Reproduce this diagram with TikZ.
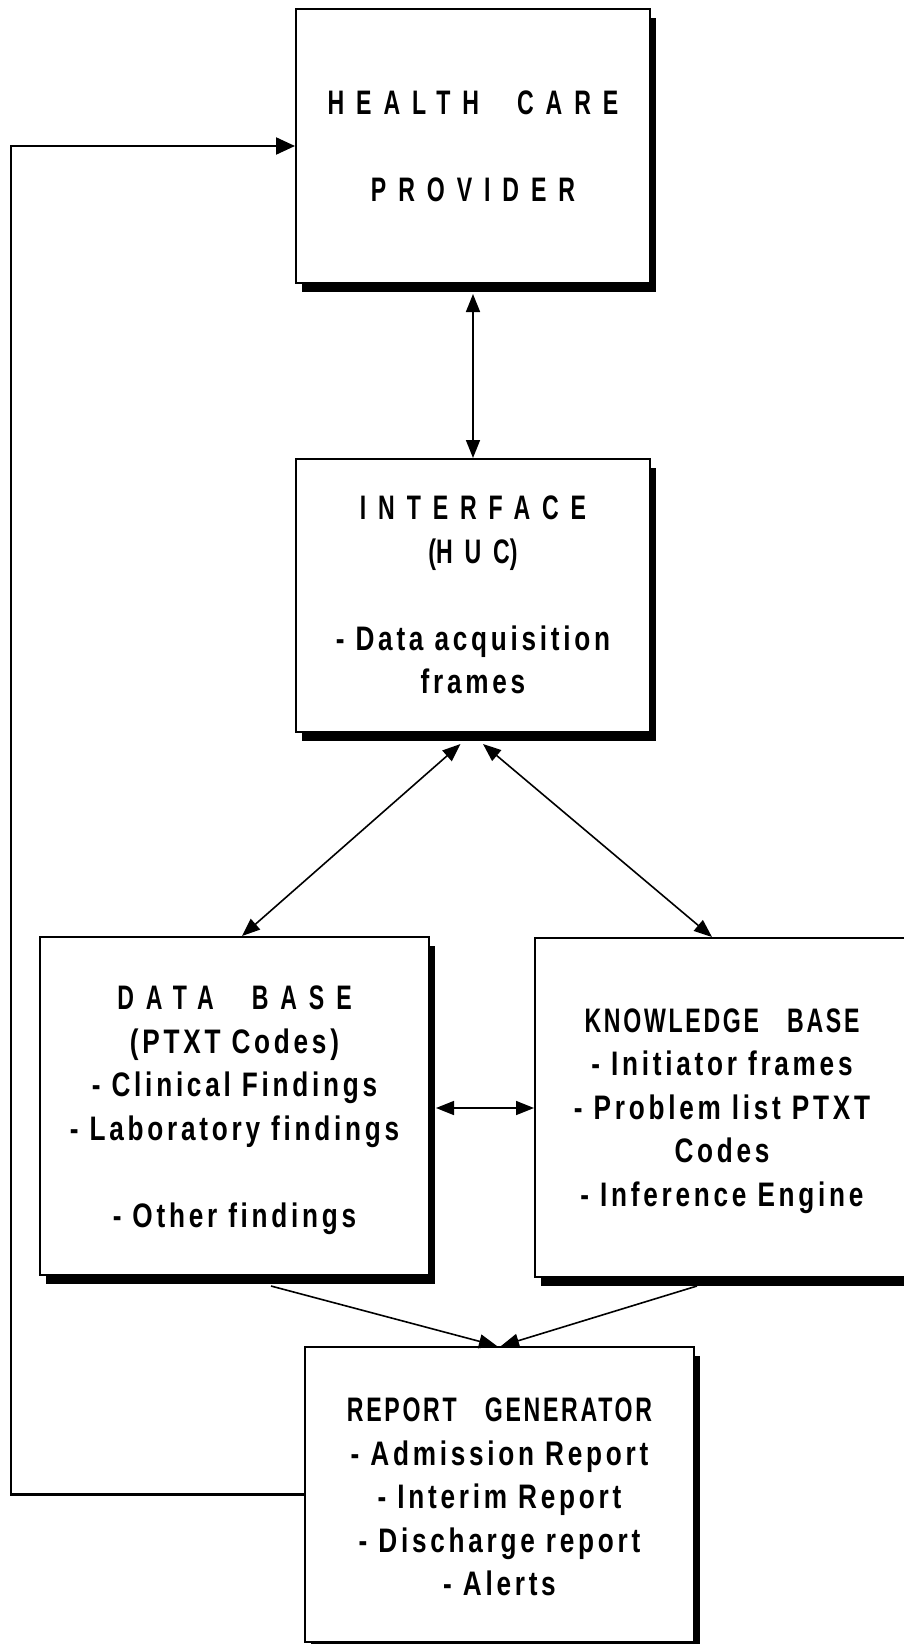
\documentclass[tikz,border=0pt]{standalone}
\usepackage{fontspec}
% body lines: condensed bold with a little tracking
\newfontfamily\boxfont{Liberation Sans}[FakeStretch=0.77,LetterSpace=11]
% narrow capitals for the two-word titles
\newfontfamily\capsfont{Liberation Sans}[FakeStretch=0.68,LetterSpace=8]
% narrow capitals, widely tracked, for the spaced-out titles
\newfontfamily\widecaps{Liberation Sans}[FakeStretch=0.68,LetterSpace=35]
\newcommand{\trackcaps}[1]{{\widecaps #1}}
\newcommand{\titlegap}{\hspace{19pt}}
\usetikzlibrary{arrows.meta,shadows,calc}

\tikzset{
  blk/.style={rectangle, draw=black, line width=1pt, fill=white, inner sep=0pt,
    drop shadow={shadow xshift=3pt, shadow yshift=-4.5pt, fill=black, opacity=1}},
  boxtext/.style={font=\boxfont\bfseries\fontsize{17pt}{21.75pt}\selectfont,
    align=center, inner sep=0pt},
  link/.style={line width=0.8pt, {Triangle[length=9pt,width=7pt]}-{Triangle[length=9pt,width=7pt]}},
  oneway/.style={line width=0.8pt, -{Triangle[length=9pt,width=7pt]}},
  feedback/.style={line width=1.1pt, -{Triangle[length=9.5pt,width=8.5pt]}},
}

\begin{document}
\begin{tikzpicture}[x=0.5pt, y=-0.5pt]
  \path[fill=white] (0,0) rectangle (904,1644);
  \useasboundingbox (0,0) rectangle (904,1644);

  % boxes
  \node[blk, minimum width=177pt, minimum height=137pt]   (hcp) at (473,146) {};
  \node[blk, minimum width=177pt, minimum height=136.5pt] (int) at (473,595.5) {};
  \node[blk, minimum width=194.5pt, minimum height=169pt] (db)  at (234.5,1106) {};
  \node[blk, minimum width=187pt, minimum height=169.5pt] (kb)  at (722,1107.5) {};
  \node[blk, minimum width=194.5pt, minimum height=147.5pt] (rg) at (499.5,1494.5) {};

  % box contents
  \node[boxtext] (hcptext) at (473,146.5)
    {\trackcaps{HEALTH}\titlegap\trackcaps{CARE}\\[21.75pt]\trackcaps{PROVIDER}};
  \node[boxtext] (inttext) at (473,595)
    {\trackcaps{INTERFACE}\\{\capsfont(}\trackcaps{HUC}{\capsfont)}\\[21.75pt]- Data acquisition\\frames};
  \node[boxtext] (dbtext) at (234.5,1110)
    {\trackcaps{DATA}\titlegap\trackcaps{BASE}\\(PTXT Codes)\\- Clinical Findings\\- Laboratory findings\\[21.75pt]- Other findings};
  \node[boxtext] (kbtext) at (722,1111)
    {{\capsfont KNOWLEDGE\hspace{14pt}BASE}\\- Initiator frames\\- Problem list PTXT\\Codes\\- Inference Engine};
  \node[boxtext] (rgtext) at (499.5,1497)
    {{\capsfont REPORT\hspace{14pt}GENERATOR}\\- Admission Report\\- Interim Report\\- Discharge report\\- Alerts};

  % connectors
  \draw[link] ([yshift=-5pt]hcp.south) -- (int.north);
  \draw[link] ($(int.south)+(-12.5,11)$) -- ($(db.north)+(7.5,0)$);
  \draw[link] ($(int.south)+(10,11)$) -- ($(kb.north)+(-10,0)$);
  \draw[link] ($(db.east)+(6,2)$) -- ($(db.east -| kb.west)+(0,2)$);
  \draw[oneway] ($(db.south)+(36.5,10)$) -- ($(rg.north)+(-2.5,0)$);
  \draw[oneway] ($(kb.south)+(-25,8)$) -- ($(rg.north)+(1.5,0)$);

  % feedback loop from the report generator back to the provider
  \coordinate (loopx) at (11,0);
  \draw[feedback] (rg.west) -- (rg.west -| loopx) |- (hcp.west);
\end{tikzpicture}
\end{document}
